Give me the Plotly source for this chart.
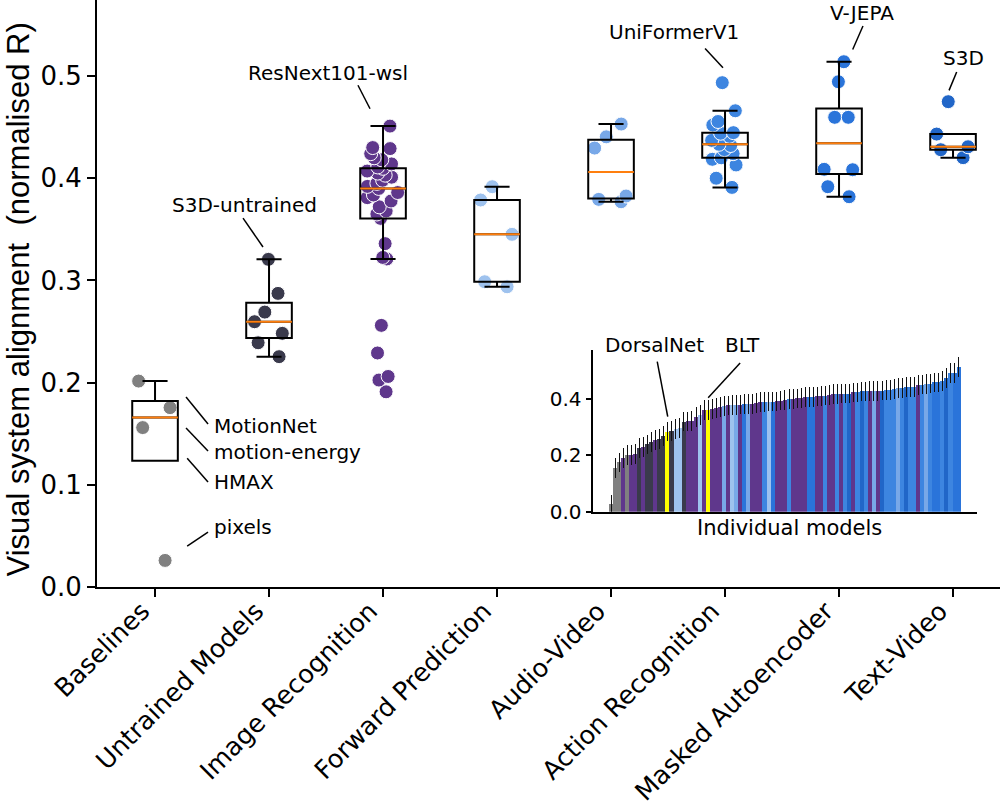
import numpy as np
import plotly.graph_objects as go

# ---------------- data ----------------
categories = ['Baselines', 'Untrained Models', 'Image Recognition', 'Forward Prediction',
              'Audio-Video', 'Action Recognition', 'Masked Autoencoder', 'Text-Video']

baselines = [0.2015, 0.1755, 0.156, 0.026]
baseline_names = ['MotionNet', 'motion-energy', 'HMAX', 'pixels']
untrained_models = [0.3206, 0.2873, 0.269, 0.2596, 0.2482, 0.239, 0.2254]
image_recognition = [0.451, 0.430, 0.429, 0.424, 0.420, 0.418, 0.414, 0.411, 0.4097, 0.407,
                     0.405, 0.403, 0.401, 0.398, 0.395, 0.392, 0.390, 0.386, 0.3836, 0.381,
                     0.3777, 0.372, 0.368, 0.365, 0.3607, 0.336, 0.3225, 0.321, 0.256, 0.229,
                     0.206, 0.2025, 0.191]
forward_prediction = [0.3917, 0.3787, 0.3451, 0.2987, 0.2938]
audio_video = [0.453, 0.4405, 0.4295, 0.3826, 0.3793, 0.377]
action_recognition = [0.4935, 0.466, 0.4555, 0.452, 0.4446, 0.444, 0.441, 0.437, 0.4332,
                      0.432, 0.428, 0.424, 0.420, 0.4185, 0.413, 0.400, 0.391]
masked_autoencoder = [0.514, 0.4944, 0.4596, 0.4596, 0.4087, 0.4083, 0.3917, 0.3819]
text_video = [0.4749, 0.4432, 0.4308, 0.4279, 0.4201]

series = [baselines, untrained_models, image_recognition, forward_prediction,
          audio_video, action_recognition, masked_autoencoder, text_video]

extra_models = ['DorsalNet', 'BLT']
extra_values = [0.285, 0.362]
inset_error = 0.035

yticks_main = [0.0, 0.1, 0.2, 0.3, 0.4, 0.5]
yticks_inset = [0.0, 0.2, 0.4]

# ---------------- styles ----------------
cat_colors = ['#808080', '#3a3a4c', '#5f378c', '#9ec2ee', '#78a8e8', '#3d85e0', '#2a74da', '#2166c8']
extra_color = '#ffff00'
median_color = '#ff7f0e'
FONT = 'DejaVu Sans'
BOXW = 0.4


def box_stats(v):
    a = np.sort(np.asarray(v, dtype=float))
    q1, med, q3 = np.percentile(a, [25, 50, 75])
    iqr = q3 - q1
    hi = a[a <= q3 + 1.5 * iqr].max()
    lo = a[a >= q1 - 1.5 * iqr].min()
    hi = max(hi, q3)
    lo = min(lo, q1)
    return q1, med, q3, lo, hi


fig = go.Figure()

# jittered points (box outline hidden)
for i, (vals, col) in enumerate(zip(series, cat_colors)):
    fig.add_trace(go.Box(
        x=[i] * len(vals), y=vals, boxpoints='all', jitter=0.85, pointpos=0,
        width=BOXW, line=dict(color='rgba(0,0,0,0)', width=0),
        fillcolor='rgba(0,0,0,0)',
        marker=dict(color=col, size=14, line=dict(color='white', width=1)),
        showlegend=False, hoverinfo='skip'))

# box outlines from matplotlib-style stats
for i, vals in enumerate(series):
    q1, med, q3, lo, hi = box_stats(vals)
    fig.add_trace(go.Box(
        x=[i], q1=[q1], median=[med], q3=[q3], lowerfence=[lo], upperfence=[hi],
        orientation='v', width=BOXW, whiskerwidth=0.55, boxpoints=False,
        line=dict(color='black', width=2), fillcolor='rgba(0,0,0,0)',
        showlegend=False, hoverinfo='skip'))

# orange medians
for i, vals in enumerate(series):
    med = float(np.median(vals))
    fig.add_trace(go.Scatter(
        x=[i - BOXW / 2, i + BOXW / 2], y=[med, med], mode='lines',
        line=dict(color=median_color, width=2), showlegend=False, hoverinfo='skip'))

# ---------------- inset bars ----------------
all_vals = []
all_cols = []
all_names = []
for vals, col, cat in zip(series, cat_colors, categories):
    for v in vals:
        all_vals.append(v)
        all_cols.append(col)
        all_names.append(cat)
for name, v in zip(extra_models, extra_values):
    all_vals.append(v)
    all_cols.append(extra_color)
    all_names.append(name)

order = np.argsort(np.asarray(all_vals), kind='stable')
s_vals = [all_vals[k] for k in order]
s_cols = [all_cols[k] for k in order]
s_names = [all_names[k] for k in order]
n = len(s_vals)
idx = list(range(n))

fig.add_trace(go.Bar(
    x=idx, y=s_vals, marker=dict(color=s_cols, line=dict(width=0)),
    error_y=dict(type='constant', value=inset_error, color='#111111', thickness=1, width=0),
    xaxis='x2', yaxis='y2', showlegend=False, hoverinfo='skip'))

i_dorsal = s_names.index('DorsalNet')
i_blt = s_names.index('BLT')

# ---------------- annotations ----------------
annotations = []
shapes = []


def label(text, x, y, xanchor='center', xref='x', yref='y'):
    annotations.append(dict(text=text, x=x, y=y, xref=xref, yref=yref, showarrow=False,
                            xanchor=xanchor, yanchor='middle',
                            font=dict(family=FONT, size=20, color='black')))


def seg(x0, y0, x1, y1, xref='x', yref='y'):
    shapes.append(dict(type='line', x0=x0, y0=y0, x1=x1, y1=y1, xref=xref, yref=yref,
                       line=dict(color='black', width=1.5)))


# baselines labels
label(baseline_names[0], 0.50, 0.1575, 'left')
seg(0.272, 0.186, 0.465, 0.1595)
label(baseline_names[1], 0.50, 0.132, 'left')
seg(0.272, 0.1556, 0.465, 0.1331)
label(baseline_names[2], 0.50, 0.1027, 'left')
seg(0.282, 0.126, 0.465, 0.1027)
label(baseline_names[3], 0.50, 0.0587, 'left')
seg(0.282, 0.0400, 0.465, 0.0538)

label('S3D-untrained', 0.789, 0.3738)
seg(0.772, 0.361, 0.947, 0.3327)
label('ResNext101-wsl', 1.518, 0.503)
seg(1.78, 0.491, 1.886, 0.468)
label('UniFormerV1', 4.553, 0.543)
seg(4.825, 0.527, 4.982, 0.508)
label('V-JEPA', 6.202, 0.562)
seg(6.21, 0.549, 6.12, 0.526)
label('S3D', 7.088, 0.518)
seg(7.032, 0.504, 6.965, 0.486)

# inset labels (y in inset-domain units: 0.593 / 0.575)
label('DorsalNet', i_dorsal - 3.2, 0.593 / 0.575, 'center', 'x2', 'y2 domain')
seg(i_dorsal - 2.6, 0.534, i_dorsal, 0.338, 'x2', 'y2')
label('BLT', i_blt + 8.6, 0.593 / 0.575, 'center', 'x2', 'y2 domain')
seg(i_blt + 7.9, 0.529, i_blt, 0.405, 'x2', 'y2')

annotations.append(dict(text='Individual models', x=0.7674, y=0.1005, xref='paper', yref='paper',
                        showarrow=False, xanchor='center', yanchor='middle',
                        font=dict(family=FONT, size=21, color='black')))

annotations.append(dict(text='Visual system alignment  (normalised R)', x=-0.0875, y=0.4898,
                        xref='paper', yref='paper', showarrow=False, textangle=-90,
                        xanchor='center', yanchor='middle',
                        font=dict(family='Liberation Sans', size=31, color='black')))

pad = 0.045 * n
fig.update_layout(
    width=1000, height=801,
    margin=dict(l=97, r=0, t=0, b=214, autoexpand=False),
    paper_bgcolor='white', plot_bgcolor='rgba(0,0,0,0)',
    font=dict(family=FONT, color='black'),
    boxmode='overlay', bargap=0,
    annotations=annotations, shapes=shapes,
    xaxis=dict(range=[-0.509, 7.412], tickmode='array', tickvals=list(range(len(categories))),
               ticktext=categories, tickangle=-45, showline=True, linecolor='black',
               linewidth=2, ticks='outside', ticklen=8, tickwidth=1.5, tickcolor='black',
               showgrid=False, zeroline=False, tickfont=dict(size=25.5, family=FONT),
               automargin=False, ticklabelshift=-13, ticklabelstandoff=-11),
    yaxis=dict(range=[0, 0.5744], tickmode='array', tickvals=yticks_main,
               ticktext=[f'{v:.1f}' for v in yticks_main], showline=True, linecolor='black',
               linewidth=2, ticks='outside', ticklen=8, tickwidth=1.5, tickcolor='black',
               showgrid=False, zeroline=False, tickfont=dict(size=26, family=FONT),
               automargin=False),
    xaxis2=dict(domain=[0.5496, 0.9742], anchor='y2', range=[-0.5 - pad, n - 0.5 + pad],
                showline=True, linecolor='black', linewidth=2, ticks='', showticklabels=False,
                showgrid=False, zeroline=False, automargin=False),
    yaxis2=dict(domain=[0.1283, 0.4037], anchor='x2', range=[0, 0.575], tickmode='array',
                tickvals=yticks_inset, ticktext=[f'{v:.1f}' for v in yticks_inset],
                showline=True, linecolor='black', linewidth=1.5, ticks='outside', ticklen=6,
                tickwidth=1.5, tickcolor='black', showgrid=False, zeroline=False,
                tickfont=dict(size=20, family=FONT), automargin=False),
)

fig.write_html('out.html', config={'displayModeBar': False},
               post_script="document.body.style.margin='0px';document.body.style.overflow='hidden';")
